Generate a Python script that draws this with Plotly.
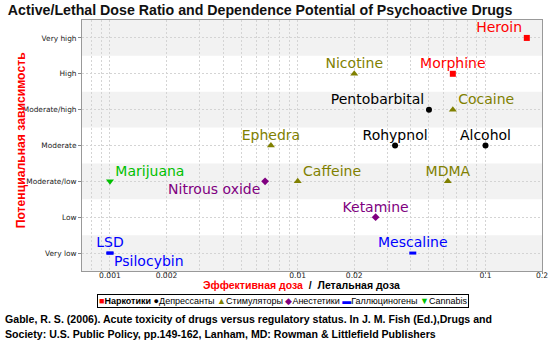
import plotly.graph_objects as go

# ---- data ----
levels = ["Very low", "Low", "Moderate/low", "Moderate", "Moderate/high", "High", "Very high"]

groups = ["Наркотики", "Депрессанты", "Стимуляторы", "Анестетики", "Галлюциногены", "Cannabis"]

narc_names = ["Heroin", "Morphine"]
narc_ratio = [0.166, 0.067]
narc_dep = ["Very high", "High"]

dep_names = ["Pentobarbital", "Rohypnol", "Alcohol"]
dep_ratio = [0.050, 0.033, 0.100]
dep_dep = ["Moderate/high", "Moderate", "Moderate"]

stim_names = ["Nicotine", "Cocaine", "Ephedra", "Caffeine", "MDMA"]
stim_ratio = [0.020, 0.067, 0.0072, 0.010, 0.063]
stim_dep = ["High", "Moderate/high", "Moderate", "Moderate/low", "Moderate/low"]

anes_names = ["Nitrous oxide", "Ketamine"]
anes_ratio = [0.0067, 0.026]
anes_dep = ["Moderate/low", "Low"]

hall_names = ["LSD", "Psilocybin", "Mescaline"]
hall_ratio = [0.001, 0.001, 0.041]
hall_dep = ["Very low", "Very low", "Very low"]

cann_names = ["Marijuana"]
cann_ratio = [0.001]
cann_dep = ["Moderate/low"]

x_tickvals = [0.001, 0.002, 0.01, 0.02, 0.1, 0.2]
x_ticktext = ["0.001", "0.002", "0.01", "0.02", "0.1", "0.2"]

# ---- styles ----
colors = ["#ff0000", "#000000", "#808000", "#800080", "#0000ff", "#00c000"]
symbols = ["square", "circle", "triangle-up", "diamond", "line-ew", "triangle-down"]
sizes = [6, 6, 7, 6, 6, 7]
# (horizontal placement, above/below)
placement = [
    [("left", "up"), ("center", "up")],
    [("left", "up"), ("center", "up"), ("center", "up")],
    [("center", "up"), ("right", "up"), ("center", "up"), ("right", "up"), ("center", "up")],
    [("left", "down"), ("center", "up")],
    [("center", "up"), ("right", "down"), ("center", "up")],
    [("right", "up")],
]
legend_glyphs = ["■", "●", "▲", "◆", "▬", "▼"]

series = [
    (narc_names, narc_ratio, narc_dep),
    (dep_names, dep_ratio, dep_dep),
    (stim_names, stim_ratio, stim_dep),
    (anes_names, anes_ratio, anes_dep),
    (hall_names, hall_ratio, hall_dep),
    (cann_names, cann_ratio, cann_dep),
]

fig = go.Figure()
for i, (names, xs, ys) in enumerate(series):
    sym = symbols[i]
    marker = dict(color=colors[i], size=sizes[i], symbol=sym, line=dict(width=0))
    if sym == "line-ew":
        marker = dict(color=colors[i], size=5, symbol=sym, line=dict(width=3, color=colors[i]))
    texts, tpos = [], []
    for n, (h, v) in zip(names, placement[i]):
        texts.append(n + "<br> " if v == "up" else " <br>" + n)
        tpos.append("middle " + h)
    fig.add_trace(go.Scatter(
        x=xs, y=ys, text=texts, mode="markers+text", name=groups[i],
        textposition=tpos,
        textfont=dict(family="DejaVu Sans", size=14, color=colors[i]),
        marker=marker, showlegend=False, cliponaxis=False,
    ))

# alternating bands
shapes = []
for k, lv in enumerate(levels):
    if k % 2 == 0:
        shapes.append(dict(type="rect", xref="paper", yref="y", x0=0, x1=1,
                           y0=k - 0.5, y1=k + 0.5, fillcolor="#f2f2f2",
                           line=dict(width=0), layer="below"))

minor_vals = []
for e in [1e-4, 1e-3, 1e-2, 1e-1]:
    for m in range(1, 10):
        minor_vals.append(round(m * e, 6))

grid_col = "#d4d4d4"
fig.update_layout(
    width=550, height=355,
    margin=dict(l=82, r=8, t=20, b=84),
    paper_bgcolor="white", plot_bgcolor="white",
    shapes=shapes,
    title=dict(text="<b>Active/Lethal Dose Ratio and Dependence Potential of Psychoactive Drugs</b>",
               x=0.473, xanchor="center", y=0.972, yanchor="middle",
               font=dict(family="Liberation Sans", size=14.2, color="#111111")),
    xaxis=dict(type="log", range=[-3.149, -0.699],
               tickvals=x_tickvals, ticktext=x_ticktext,
               tickfont=dict(family="DejaVu Sans", size=7.6, color="#222222"),
               ticks="outside", ticklen=2, tickcolor="#888888",
               ticklabelstandoff=-5,
               showgrid=True, gridcolor=grid_col, griddash="2px,2px", gridwidth=1,
               minor=dict(tickvals=minor_vals, showgrid=True, gridcolor=grid_col,
                          griddash="2px,2px", gridwidth=1, ticks=""),
               showline=True, linecolor="#999999", mirror=True, zeroline=False,
               automargin=False),
    yaxis=dict(type="category", categoryorder="array", categoryarray=levels,
               range=[-0.5, 6.5],
               tickfont=dict(family="DejaVu Sans", size=7.4, color="#222222"),
               ticks="outside", ticklen=3, tickcolor="#888888",
               showgrid=True, gridcolor=grid_col, griddash="2px,2px", gridwidth=1,
               showline=True, linecolor="#999999", mirror=True, automargin=False),
    showlegend=False,
)

# axis titles
fig.add_annotation(xref="paper", yref="paper", x=-0.152, y=0.521, textangle=-90,
                   text="<b>Потенциальная зависимость</b>", showarrow=False,
                   font=dict(family="Liberation Sans", size=12.2, color="#ff0000"))
fig.add_annotation(xref="paper", yref="paper", x=0.478, y=-0.086,
                   text="<b><span style='color:#ff0000'>Эффективная доза</span>  /  Летальная доза</b>",
                   showarrow=False,
                   font=dict(family="Liberation Sans", size=10.5, color="#000000"))

# legend box
parts = []
for i, g in enumerate(groups):
    lbl = "<b>%s</b>" % g if i == 0 else g
    parts.append("<span style='color:%s'>%s</span>%s" % (colors[i], legend_glyphs[i], lbl))
fig.add_annotation(xref="paper", yref="paper", x=0.437, y=-0.149,
                   text=" ".join(parts), showarrow=False,
                   bordercolor="#000000", borderwidth=1, borderpad=1, bgcolor="white",
                   font=dict(family="Liberation Sans", size=9, color="#000000"))

# source footer
fig.add_annotation(xref="paper", yref="paper", x=-0.1717, y=-0.2246, xanchor="left",
                   text="<b>Gable, R. S. (2006). Acute toxicity of drugs versus regulatory status. In J. M. Fish (Ed.),Drugs and</b>",
                   showarrow=False, font=dict(family="Liberation Sans", size=10.6, color="#000000"))
fig.add_annotation(xref="paper", yref="paper", x=-0.1717, y=-0.2844, xanchor="left",
                   text="<b>Society: U.S. Public Policy, pp.149-162, Lanham, MD: Rowman &amp; Littlefield Publishers</b>",
                   showarrow=False, font=dict(family="Liberation Sans", size=10.6, color="#000000"))

fig.write_html("out.html", config={"displayModeBar": False},
               post_script="document.body.style.margin='0px';")
